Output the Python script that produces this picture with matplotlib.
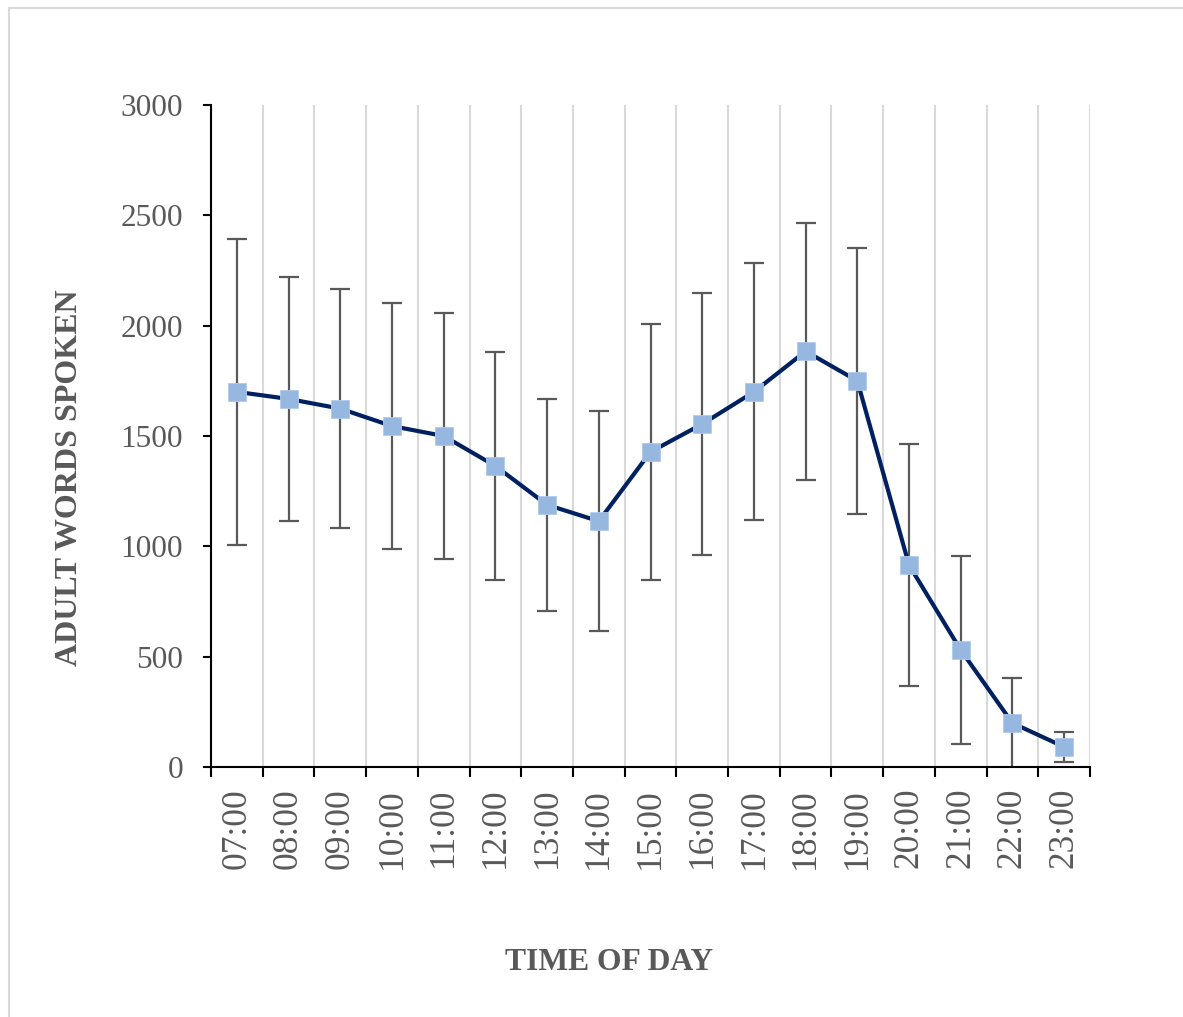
import matplotlib
matplotlib.use("Agg")
import matplotlib.pyplot as plt
from matplotlib.lines import Line2D
import numpy as np

hours = ["07:00", "08:00", "09:00", "10:00", "11:00", "12:00", "13:00", "14:00",
         "15:00", "16:00", "17:00", "18:00", "19:00", "20:00", "21:00", "22:00", "23:00"]
words = [1700, 1668, 1624, 1545, 1500, 1364, 1188, 1114,
         1428, 1554, 1700, 1884, 1750, 915, 530, 199, 91]
errors = [695, 553, 540, 558, 558, 518, 480, 498,
          580, 592, 582, 582, 603, 550, 425, 204, 68]

plt.rcParams['font.family'] = ['Liberation Serif', 'DejaVu Serif']

fig = plt.figure(figsize=(11.83, 10.17), dpi=100)
ax = fig.add_axes([211/1183, 1-767/1017, (1090-211)/1183, (767-105)/1017])

x = np.arange(len(hours))
ax.errorbar(x, words, yerr=errors, fmt='none', ecolor='#595959', elinewidth=1.6,
            capsize=7, capthick=1.6, zorder=2)
ax.plot(x, words, color='#002060', linewidth=3.0, zorder=3,
        marker='s', markersize=13.5, markerfacecolor='#95B7E0',
        markeredgecolor='#B0CBEA', markeredgewidth=0.6)

ax.set_xlim(-0.5, len(hours) - 0.5)
ax.set_ylim(0, 3000)
ax.set_yticks(np.arange(0, 3001, 500))
ax.set_xticks(np.arange(-0.5, len(hours), 1.0))
ax.set_xticklabels([])
ax.set_xticks(x, minor=True)
ax.set_xticklabels(hours, minor=True, rotation=90, fontsize=25.5, color='#595959')
ax.tick_params(axis='x', which='minor', length=0, pad=15)
ax.tick_params(axis='x', which='major', length=7, width=1.5, direction='out', color='black')
ax.tick_params(axis='y', length=6, width=1.5, direction='out', pad=14,
               labelsize=22.5, labelcolor='#595959')

ax.grid(axis='x', which='major', color='#D9D9D9', linewidth=1.5, zorder=0)
ax.set_axisbelow(True)
for s in ['top', 'right']:
    ax.spines[s].set_visible(False)
for s in ['left', 'bottom']:
    ax.spines[s].set_linewidth(1.5)
    ax.spines[s].set_color('black')

fig.text(609/1183, 1-963/1017, "TIME OF DAY", ha='center', va='center',
         fontsize=22.8, fontweight='bold', color='#595959')
fig.text(70/1183, 1-478/1017, "ADULT WORDS SPOKEN", ha='center', va='center',
         rotation=90, fontsize=23, fontweight='bold', color='#595959')

# figure border
fig.add_artist(Line2D([8.5/1183, 8.5/1183], [0, 1-7.5/1017], color='#D9D9D9', linewidth=1.5,
                      transform=fig.transFigure))
fig.add_artist(Line2D([8.5/1183, 1], [1-7.5/1017, 1-7.5/1017], color='#D9D9D9', linewidth=1.5,
                      transform=fig.transFigure))

fig.savefig("out.png", dpi=100)
